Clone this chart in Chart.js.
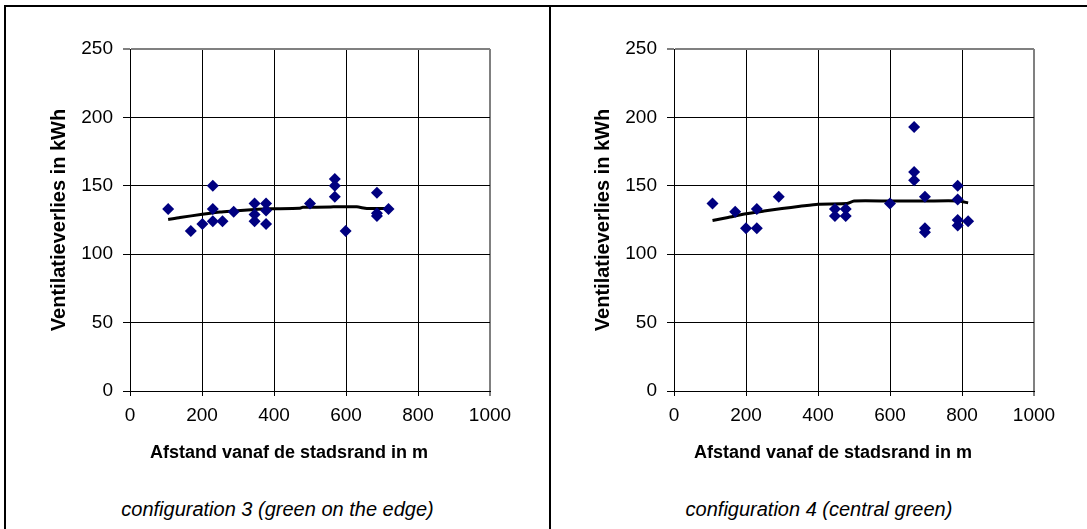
<!DOCTYPE html>
<html>
<head>
<meta charset="utf-8">
<script src="https://cdn.jsdelivr.net/npm/chart.js@4.4.0/dist/chart.umd.min.js"></script>
<style>
    html, body { margin: 0; padding: 0; background: #fff; }
    body { width: 1087px; height: 529px; position: relative; overflow: hidden; font-family: 'Liberation Sans', Arial, sans-serif; }
    .rule { position: absolute; background: #000; }
    canvas { position: absolute; top: 0; }
    .caption { position: absolute; top: 498px; font-style: italic; font-size: 20px; text-align: center; color: #000; }
</style>
</head>
<body>
<div class="rule" style="left:4px;top:5px;width:1083px;height:2px"></div>
<div class="rule" style="left:4px;top:5px;width:2px;height:524px"></div>
<div class="rule" style="left:549px;top:5px;width:2px;height:524px"></div>
<canvas id="chart3" width="549" height="480" style="left:0"></canvas>
<canvas id="chart4" width="536" height="480" style="left:551px"></canvas>
<div class="caption" style="left:6px;width:543px">configuration 3 (green on the edge)</div>
<div class="caption" style="left:551px;width:536px">configuration 4 (central green)</div>

<script>
// Tick labels
const xTicks = [0, 200, 400, 600, 800, 1000];
const yTicks = [0, 50, 100, 150, 200, 250];

// configuration 3 (green on the edge)
const distance3 = [106, 169, 201, 230, 230, 230, 257, 288, 346, 346, 346, 378, 378, 378, 500, 569, 569, 569, 599, 686, 686, 686, 718];
const loss3     = [133, 117, 122, 150, 133, 124, 124, 131, 137, 129, 124, 137, 132, 122, 137, 155, 150, 142, 117, 145, 130, 128, 133];
const trendX3   = [106, 139, 201, 250, 288, 346, 378, 470, 480, 565, 630, 658, 718];
const trendY3   = [125.3, 126.8, 129.2, 130.9, 131.6, 132.6, 133.2, 133.5, 134.3, 134.6, 134.6, 133.4, 133.4];

// configuration 4 (central green)
const distance4 = [107, 170, 200, 230, 230, 291, 447, 447, 477, 477, 600, 667, 667, 667, 697, 697, 697, 788, 788, 788, 788, 817];
const loss4     = [137, 131, 119, 133, 119, 142, 133, 128, 133, 128, 137, 193, 160, 154, 142, 119, 116, 150, 140, 125, 121, 124];
const trendX4   = [107, 150, 200, 250, 300, 350, 400, 480, 500, 600, 700, 790, 817];
const trendY4   = [124.6, 126.8, 129.5, 131.5, 133.4, 135, 136.6, 137, 138.9, 138.9, 138.9, 138.9, 137.5];

const FONT = "'Liberation Sans', Arial, sans-serif";

function toPoints(xs, ys) {
    return xs.map((x, i) => ({ x: x, y: ys[i] }));
}

// x axis title, Excel puts it a bit left of the plot centre
const xTitlePlugin = {
    id: 'xTitle',
    afterDraw(chart, args, opts) {
        const { ctx, chartArea } = chart;
        ctx.save();
        ctx.font = 'bold 18px ' + FONT;
        ctx.fillStyle = '#000';
        ctx.textAlign = 'left';
        ctx.textBaseline = 'middle';
        ctx.fillText(opts.text, chartArea.left + opts.offset, opts.y);
        ctx.restore();
    }
};

// geo: y axis width, right padding, y title offset
function makeChart(id, xs, ys, tx, ty, geo) {
    const ctx = document.getElementById(id).getContext('2d');
    const lastX = xTicks[xTicks.length - 1];
    const lastY = yTicks[yTicks.length - 1];
    return new Chart(ctx, {
        type: 'scatter',
        data: {
            datasets: [
                {
                    data: toPoints(xs, ys),
                    pointStyle: 'rectRot',
                    pointRadius: 6,
                    backgroundColor: '#000080',
                    borderColor: '#000080',
                    borderWidth: 0,
                    order: 0
                },
                {
                    type: 'line',
                    data: toPoints(tx, ty),
                    borderColor: '#000',
                    borderWidth: 3,
                    pointRadius: 0,
                    tension: 0.2,
                    fill: false,
                    order: 1
                }
            ]
        },
        plugins: [xTitlePlugin],
        options: {
            responsive: false,
            animation: false,
            layout: { padding: { top: 49, right: geo.right, bottom: 0, left: 0 } },
            plugins: {
                legend: { display: false },
                tooltip: { enabled: false },
                xTitle: { text: 'Afstand vanaf de stadsrand in m', offset: 20, y: 453 }
            },
            scales: {
                x: {
                    type: 'linear',
                    min: xTicks[0],
                    max: lastX,
                    ticks: {
                        stepSize: xTicks[1] - xTicks[0],
                        color: '#000',
                        font: { family: FONT, size: 19 },
                        padding: 8,
                        maxRotation: 0,
                        callback: (v) => String(v)
                    },
                    grid: {
                        color: (c) => c.tick && c.tick.value === lastX ? '#808080' : '#000',
                        lineWidth: (c) => c.tick && c.tick.value === lastX ? 2 : 1,
                        tickLength: 5,
                        tickColor: '#000',
                        tickWidth: 1
                    },
                    border: { color: '#000', width: 1 },
                    afterFit: (s) => { s.height = 89; }
                },
                y: {
                    type: 'linear',
                    min: yTicks[0],
                    max: lastY,
                    ticks: {
                        stepSize: yTicks[1] - yTicks[0],
                        color: '#000',
                        font: { family: FONT, size: 19 },
                        padding: 10,
                        callback: (v) => String(v)
                    },
                    grid: {
                        color: (c) => c.tick && c.tick.value === lastY ? '#808080' : '#000',
                        lineWidth: (c) => c.tick && c.tick.value === lastY ? 2 : 1,
                        tickLength: 7,
                        tickColor: '#000',
                        tickWidth: 1
                    },
                    border: { color: '#000', width: 1 },
                    title: {
                        display: true,
                        text: 'Ventilatieverlies in kWh',
                        color: '#000',
                        font: { family: FONT, size: 20, weight: 'bold' },
                        padding: { top: geo.title, bottom: 0 }
                    },
                    afterFit: (s) => { s.width = geo.yWidth; }
                }
            }
        }
    });
}

makeChart('chart3', distance3, loss3, trendX3, trendY3, { yWidth: 130, right: 59, title: 47 });
makeChart('chart4', distance4, loss4, trendX4, trendY4, { yWidth: 123, right: 53, title: 40 });
</script>
</body>
</html>
